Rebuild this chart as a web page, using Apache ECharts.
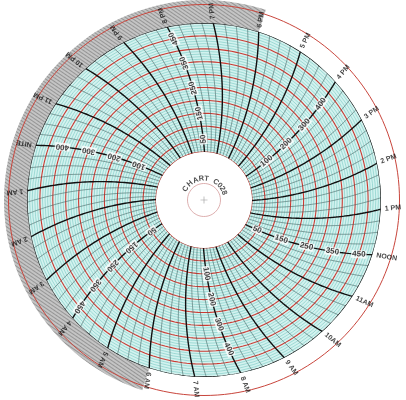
<!DOCTYPE html>
<html lang="en">
<head>
    <meta charset="UTF-8">
    <title>Circular Chart C028</title>
    <script src="https://cdn.jsdelivr.net/npm/echarts/dist/echarts.min.js"></script>
    <style>body { margin: 0; background: #fff; }</style>
</head>
<body>
    <div id="main" style="width: 406px;height:400px;"></div>
    <script type="text/javascript">
        // hour names, counterclockwise starting at midnight
        const hourLabels = ['NITE', '1 AM', '2 AM', '3 AM', '4 AM', '5 AM', '6 AM', '7 AM', '8 AM', '9 AM', '10AM', '11AM',
            'NOON', '1 PM', '2 PM', '3 PM', '4 PM', '5 PM', '6 PM', '7 PM', '8 PM', '9 PM', '10 PM', '11 PM'];
        // scale numbers printed along some of the hour lines
        const oddScale = [50, 150, 250, 350, 450];
        const evenScale = [100, 200, 300, 400];
        const oddScaleHours = [4, 12, 20];
        const evenScaleHours = [0, 8, 16];
        // red rings
        const majorRings = [0, 50, 100, 150, 200, 250, 300, 350, 400, 450];
        // shaded night band, hours from midnight: shaded, clear, shaded
        const bandSpans = [6, 12, 6];
        const titleLetters = ['C', 'H', 'A', 'R', 'T', 'C', '0', '2', '8'];
        const titleAngles = [149, 131, 113, 97, 83, 56, 43, 32, 20];

        const CX = 204, CY = 200;
        const R_IN = 48, R_OUT = 177, ARM = 300;
        const START = 162; // where midnight meets the outer ring

        const rPx = v => R_IN + (R_OUT - R_IN) * v / 500;
        // time lines are pen arcs: how many hours the line lags its outer end at a radius
        const lag = px => (Math.acos(px / (2 * ARM)) - Math.acos(R_OUT / (2 * ARM))) * 180 / Math.PI / 15;
        // angle between the time line and the radius at a point
        const tilt = px => Math.atan(px / (2 * ARM * Math.sin(Math.acos(px / (2 * ARM))))) * 180 / Math.PI;
        const norm = a => ((a % 360) + 360) % 360;

        const font = 'Liberation Sans';

        // time lines every quarter hour
        const timeSeries = [];
        for (let q = 1; q <= 96; q++) {
            const t0 = q / 4;
            const isHour = q % 4 === 0;
            const pts = [];
            for (let v = 0; v <= 500; v += 10) pts.push([v, t0 - lag(rPx(v))]);
            timeSeries.push({
                type: 'line', coordinateSystem: 'polar', polarIndex: 0,
                data: pts, symbol: 'none', silent: true, z: isHour ? 4 : 3,
                lineStyle: { color: isHour ? '#111' : '#3d5a58', width: isHour ? 1.4 : 0.55 }
            });
        }

        const ringAt = (v, step) => {
            const pts = [];
            for (let t = 0; t <= 24.001; t += step) pts.push([v, t]);
            return pts;
        };
        const redRings = majorRings.map(v => ({
            type: 'line', coordinateSystem: 'polar', polarIndex: 0, data: ringAt(v, 0.1),
            symbol: 'none', silent: true, z: 2, lineStyle: { color: '#cc3a32', width: 1.1 }
        }));

        const circle = r => {
            const pts = [];
            for (let a = 0; a <= 360; a += 2) pts.push([r, a]);
            return pts;
        };

        const hourData = hourLabels.map((name, h) => ({
            name: name,
            value: [500, h === 0 ? 24 : h],
            label: { rotate: norm(START + 15 * h + tilt(R_OUT) / 2) }
        }));

        const scaleData = [];
        const addScale = (hours, vals) => hours.forEach(h => vals.forEach(v => {
            const px = rPx(v);
            const t = (h === 0 ? 24 : h) - lag(px);
            scaleData.push({ name: String(v), value: [v, t], label: { rotate: norm(START + 15 * t + tilt(px)) } });
        }));
        addScale(oddScaleHours, oddScale);
        addScale(evenScaleHours, evenScale);

        const titleData = titleLetters.map((c, i) => ({
            name: c, value: [21.5, titleAngles[i]], label: { rotate: titleAngles[i] - 90 }
        }));

        const myChart = echarts.init(document.getElementById('main'));

        const hidden = { axisLine: { show: false }, axisTick: { show: false }, axisLabel: { show: false }, splitLine: { show: false } };

        const option = {
            animation: false,
            polar: [
                { center: [CX, CY], radius: [R_IN, R_OUT] },
                { center: [CX, CY], radius: [R_OUT, 200] },
                { center: [CX, CY], radius: [0, 200] }
            ],
            angleAxis: [
                Object.assign({ polarIndex: 0, type: 'value', min: 0, max: 24, startAngle: START, clockwise: false }, hidden),
                Object.assign({ polarIndex: 1, type: 'value', min: 0, max: 24, startAngle: START, clockwise: false }, hidden),
                Object.assign({ polarIndex: 2, type: 'value', min: 0, max: 360, startAngle: 0, clockwise: false }, hidden)
            ],
            radiusAxis: [
                {
                    polarIndex: 0, type: 'value', min: 0, max: 500, interval: 50,
                    axisLine: { show: false }, axisTick: { show: false }, axisLabel: { show: false },
                    splitLine: { show: false },
                    minorTick: { show: false, splitNumber: 5 },
                    minorSplitLine: { show: true, lineStyle: { color: '#79c9c3', width: 0.6 } },
                    splitArea: { show: true, areaStyle: { color: ['#d3f2ef'] } }
                },
                Object.assign({ polarIndex: 1, type: 'category', data: ['band'] }, hidden),
                Object.assign({ polarIndex: 2, type: 'value', min: 0, max: 200 }, hidden)
            ],
            series: [
                // night band
                ...bandSpans.map((d, i) => ({
                    type: 'bar', coordinateSystem: 'polar', polarIndex: 1, stack: 'band',
                    data: [d], barWidth: '100%', silent: true,
                    itemStyle: i === 1 ? { color: 'rgba(0,0,0,0)' } : {
                        color: '#c4c4c4',
                        decal: { symbol: 'rect', dashArrayX: [1, 0], dashArrayY: [1, 1.5], rotation: 0.6, color: 'rgba(60,60,60,0.35)' }
                    }
                })),
                ...redRings,
                ...timeSeries,
                {
                    type: 'line', coordinateSystem: 'polar', polarIndex: 0, data: ringAt(500, 0.1),
                    symbol: 'none', silent: true, z: 5, lineStyle: { color: '#111', width: 1.3 }
                },
                {
                    type: 'line', coordinateSystem: 'polar', polarIndex: 2, data: circle(195.5),
                    symbol: 'none', silent: true, lineStyle: { color: '#c8453c', width: 1 }
                },
                {
                    type: 'line', coordinateSystem: 'polar', polarIndex: 2, data: circle(16.5),
                    symbol: 'none', silent: true, lineStyle: { color: '#d49a9a', width: 0.8 }
                },
                {
                    type: 'scatter', coordinateSystem: 'polar', polarIndex: 2, data: [[0, 0]],
                    symbol: 'path://M0,4.6H10V5.4H0ZM4.6,0H5.4V10H4.6Z', symbolSize: 7,
                    silent: true, itemStyle: { color: '#777' }
                },
                {
                    type: 'scatter', coordinateSystem: 'polar', polarIndex: 2, data: titleData,
                    symbolSize: 1, silent: true, clip: false, itemStyle: { color: 'rgba(0,0,0,0)' },
                    label: {
                        show: true, formatter: '{b}', position: 'inside', align: 'center', verticalAlign: 'middle',
                        fontSize: 7.5, fontWeight: 'bold', fontFamily: font, color: '#222'
                    }
                },
                {
                    type: 'scatter', coordinateSystem: 'polar', polarIndex: 0, data: hourData,
                    symbolSize: 1, silent: true, clip: false, z: 10, itemStyle: { color: 'rgba(0,0,0,0)' },
                    label: {
                        show: true, formatter: '{b}', position: 'inside', align: 'left', verticalAlign: 'middle',
                        padding: [0, 0, 0, 4], fontSize: 7, fontWeight: 'bold', fontFamily: font, color: '#111'
                    }
                },
                {
                    type: 'scatter', coordinateSystem: 'polar', polarIndex: 0, data: scaleData,
                    symbolSize: 1, silent: true, clip: false, z: 10, itemStyle: { color: 'rgba(0,0,0,0)' },
                    label: {
                        show: true, formatter: '{b}', position: 'inside', align: 'center', verticalAlign: 'middle',
                        padding: [0, 1], backgroundColor: '#fff', fontSize: 8, fontWeight: 'bold',
                        fontFamily: font, color: '#111'
                    }
                }
            ]
        };

        myChart.setOption(option);
    </script>
</body>
</html>
